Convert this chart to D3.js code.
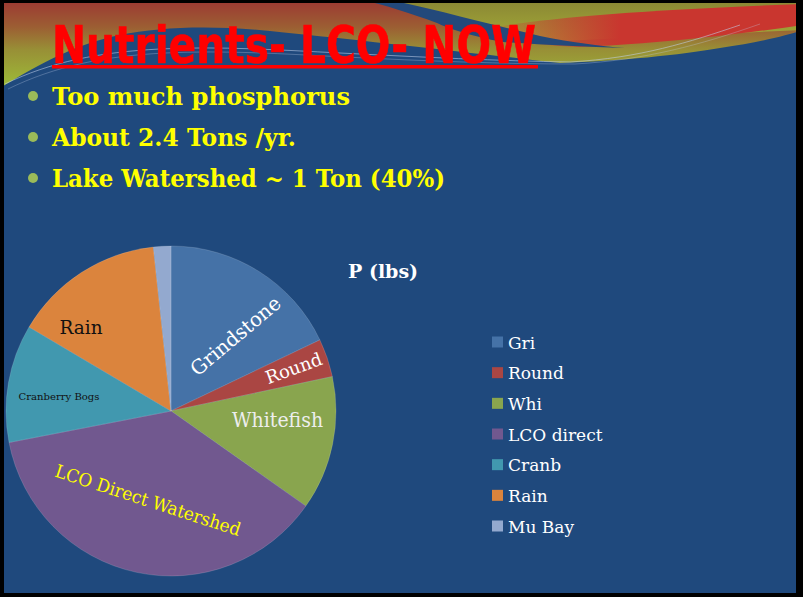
<!DOCTYPE html>
<html>
<head>
<meta charset="utf-8">
<script src="https://cdn.jsdelivr.net/npm/d3@7/dist/d3.min.js"></script>
<style>
  html, body { margin: 0; padding: 0; background: #000; }
  svg { display: block; }
</style>
</head>
<body>
<script>
// ---- Data ----
const categories = ["Gri", "Round", "Whi", "LCO direct", "Cranb", "Rain", "Mu Bay"];
const pLbs = [860, 180, 630, 1785, 555, 710, 82];
const sliceLabels = ["Grindstone", "Round", "Whitefish", "LCO Direct Watershed", "Cranberry Bogs", "Rain", ""];
const sliceColors = ["#4572A7", "#AA4643", "#89A54E", "#71588F", "#4198AF", "#DB843D", "#93A9CF"];
const titleText = "Nutrients- LCO- NOW";
const bullets = ["Too much phosphorus", "About 2.4 Tons /yr.", "Lake Watershed ~ 1 Ton (40%)"];
const chartTitle = "P (lbs)";

// ---- Layout ----
const W = 803, H = 597;
const svg = d3.select("body").append("svg").attr("width", W).attr("height", H);
const defs = svg.append("defs");

const gWarm = defs.append("linearGradient").attr("id", "warm")
  .attr("gradientUnits", "userSpaceOnUse").attr("x1", 0).attr("y1", 0).attr("x2", 0).attr("y2", 90);
[[0, "#9C3833"], [0.3, "#9C5E33"], [0.55, "#988F36"], [1, "#9EC038"]].forEach(s =>
  gWarm.append("stop").attr("offset", s[0]).attr("stop-color", s[1]));

const gOlive = defs.append("linearGradient").attr("id", "olive")
  .attr("gradientUnits", "userSpaceOnUse").attr("x1", 0).attr("y1", 0).attr("x2", 0).attr("y2", 40);
[[0, "#8A8634"], [1, "#A3AA37"]].forEach(s =>
  gOlive.append("stop").attr("offset", s[0]).attr("stop-color", s[1]));

const gRed = defs.append("linearGradient").attr("id", "redrib")
  .attr("gradientUnits", "userSpaceOnUse").attr("x1", 480).attr("y1", 0).attr("x2", 620).attr("y2", 0);
[[0, "rgba(204,52,48,0)"], [1, "#C9362F"]].forEach(s =>
  gRed.append("stop").attr("offset", s[0]).attr("stop-color", s[1]));

// background decoration
svg.append("rect").attr("x", 0).attr("y", 0).attr("width", W).attr("height", 110).attr("fill", "url(#warm)");
svg.append("path").attr("d", "M387,0 L803,0 L803,30 L540,42 C480,28 430,12 387,0 Z").attr("fill", "url(#olive)");
svg.append("path").attr("d", "M480,30 C540,18 640,10 803,4 L803,25 C720,37 640,45 580,47 C540,46 505,40 480,30 Z").attr("fill", "url(#redrib)");
svg.append("path").attr("d", "M362,0 L390,0 C430,8 480,22 540,36 C570,42 600,46 625,48 C585,47 545,45 503,42 C470,36 445,27 437,23 C410,13 385,5 362,0 Z").attr("fill", "#23497B");
svg.append("path")
  .attr("d", "M0,88 C30,70 70,45 120,35 C160,27 210,25 270,31 C330,37 420,47 480,54 C520,58 545,62 560,63 C620,61 680,55 720,48 C760,42 785,36 803,30 L803,597 L0,597 Z")
  .attr("fill", "#1F497D");
svg.append("path")
  .attr("d", "M5,84 C50,62 100,52 160,49 C220,46 280,50 340,53 C420,57 500,61 570,62 C640,58 690,42 740,25")
  .attr("fill", "none").attr("stroke", "rgba(195,210,235,0.55)").attr("stroke-width", 1);
svg.append("path")
  .attr("d", "M8,89 C55,66 105,56 165,53 C225,50 285,54 345,57 C425,61 505,64 575,64 C645,60 700,45 760,24")
  .attr("fill", "none").attr("stroke", "rgba(195,210,235,0.3)").attr("stroke-width", 1);

// ---- Title ----
svg.append("text")
  .attr("x", 52).attr("y", 63)
  .attr("font-family", "'DejaVu Sans Condensed','DejaVu Sans',sans-serif")
  .attr("font-weight", "bold").attr("font-size", 52)
  .attr("fill", "#FF0000").attr("stroke", "#FF0000").attr("stroke-width", 0.6)
  .attr("textLength", 484).attr("lengthAdjust", "spacingAndGlyphs")
  .text(titleText);
svg.append("rect").attr("x", 52).attr("y", 65).attr("width", 486).attr("height", 3.5).attr("fill", "#FF0000");

// ---- Bullets ----
const bulletWidths = [298, 244, 393];
const bulletY = d3.scalePoint().domain(d3.range(bullets.length)).range([105, 187]);
bullets.forEach((b, i) => {
  svg.append("circle").attr("cx", 33).attr("cy", bulletY(i) - 9).attr("r", 5).attr("fill", "#9BBB59");
  svg.append("text")
    .attr("x", 52).attr("y", bulletY(i))
    .attr("font-family", "'DejaVu Serif',serif").attr("font-weight", "bold").attr("font-size", 24)
    .attr("fill", "#FFFF00")
    .attr("textLength", bulletWidths[i]).attr("lengthAdjust", "spacingAndGlyphs")
    .text(b);
});

// ---- Pie ----
const cx = 171, cy = 411, R = 165;
const pie = d3.pie().sort(null).value(d => d);
const arcs = pie(pLbs);
const arc = d3.arc().innerRadius(0).outerRadius(R);
const gPie = svg.append("g").attr("transform", `translate(${cx},${cy})`);
gPie.selectAll("path.slice").data(arcs).enter().append("path")
  .attr("class", "slice")
  .attr("d", arc)
  .attr("fill", (d, i) => sliceColors[i])
  .attr("stroke", "rgba(255,255,255,0.18)").attr("stroke-width", 0.8);

// label placement (polar angle in degrees from north, radius px, rotation, style)
const labelLayout = [
  { a: 40.5, r: 99, rot: -40, size: 20, fill: "#FFFFFF", len: 111 },
  { a: 70.7, r: 130, rot: -20, size: 18, fill: "#FFFFFF", len: 59 },
  { a: 94.8, r: 107, rot: 0, size: 20, fill: "#EEEEEE", len: 91 },
  { a: 194.5, r: 92, rot: 18, size: 18, fill: "#FFFF00", len: 194 },
  { a: 277.6, r: 113, rot: 0, size: 10, fill: "#111111", len: 81 },
  { a: 313.0, r: 123, rot: 0, size: 19, fill: "#111111", len: 43 },
  null
];
arcs.forEach((d, i) => {
  const L = labelLayout[i];
  if (!L || !sliceLabels[i]) return;
  const t = L.a * Math.PI / 180;
  const x = L.r * Math.sin(t), y = -L.r * Math.cos(t);
  gPie.append("text")
    .attr("transform", `translate(${x},${y}) rotate(${L.rot})`)
    .attr("text-anchor", "middle").attr("dy", "0.36em")
    .attr("font-family", "'DejaVu Serif',serif").attr("font-size", L.size)
    .attr("fill", L.fill)
    .attr("textLength", L.len).attr("lengthAdjust", "spacingAndGlyphs")
    .text(sliceLabels[i]);
});

// ---- Chart title ----
svg.append("text")
  .attr("x", 348).attr("y", 278)
  .attr("font-family", "'DejaVu Serif',serif").attr("font-weight", "bold").attr("font-size", 19)
  .attr("fill", "#FFFFFF")
  .text(chartTitle);

// ---- Legend ----
const legY = d3.scalePoint().domain(categories).range([342, 526]);
const gLeg = svg.append("g");
categories.forEach((c, i) => {
  gLeg.append("rect").attr("x", 492).attr("y", legY(c) - 5.5).attr("width", 11).attr("height", 11)
    .attr("fill", sliceColors[i]);
  gLeg.append("text").attr("x", 508).attr("y", legY(c) + 6.5)
    .attr("font-family", "'DejaVu Serif',serif").attr("font-size", 17)
    .attr("fill", "#FFFFFF")
    .text(c);
});

// ---- Slide border ----
svg.append("rect").attr("x", 0).attr("y", 0).attr("width", 4).attr("height", H).attr("fill", "#000");
svg.append("rect").attr("x", 0).attr("y", 0).attr("width", W).attr("height", 3).attr("fill", "#000");
svg.append("rect").attr("x", 796).attr("y", 0).attr("width", 7).attr("height", H).attr("fill", "#000");
svg.append("rect").attr("x", 0).attr("y", 593).attr("width", W).attr("height", 4).attr("fill", "#000");
</script>
</body>
</html>
